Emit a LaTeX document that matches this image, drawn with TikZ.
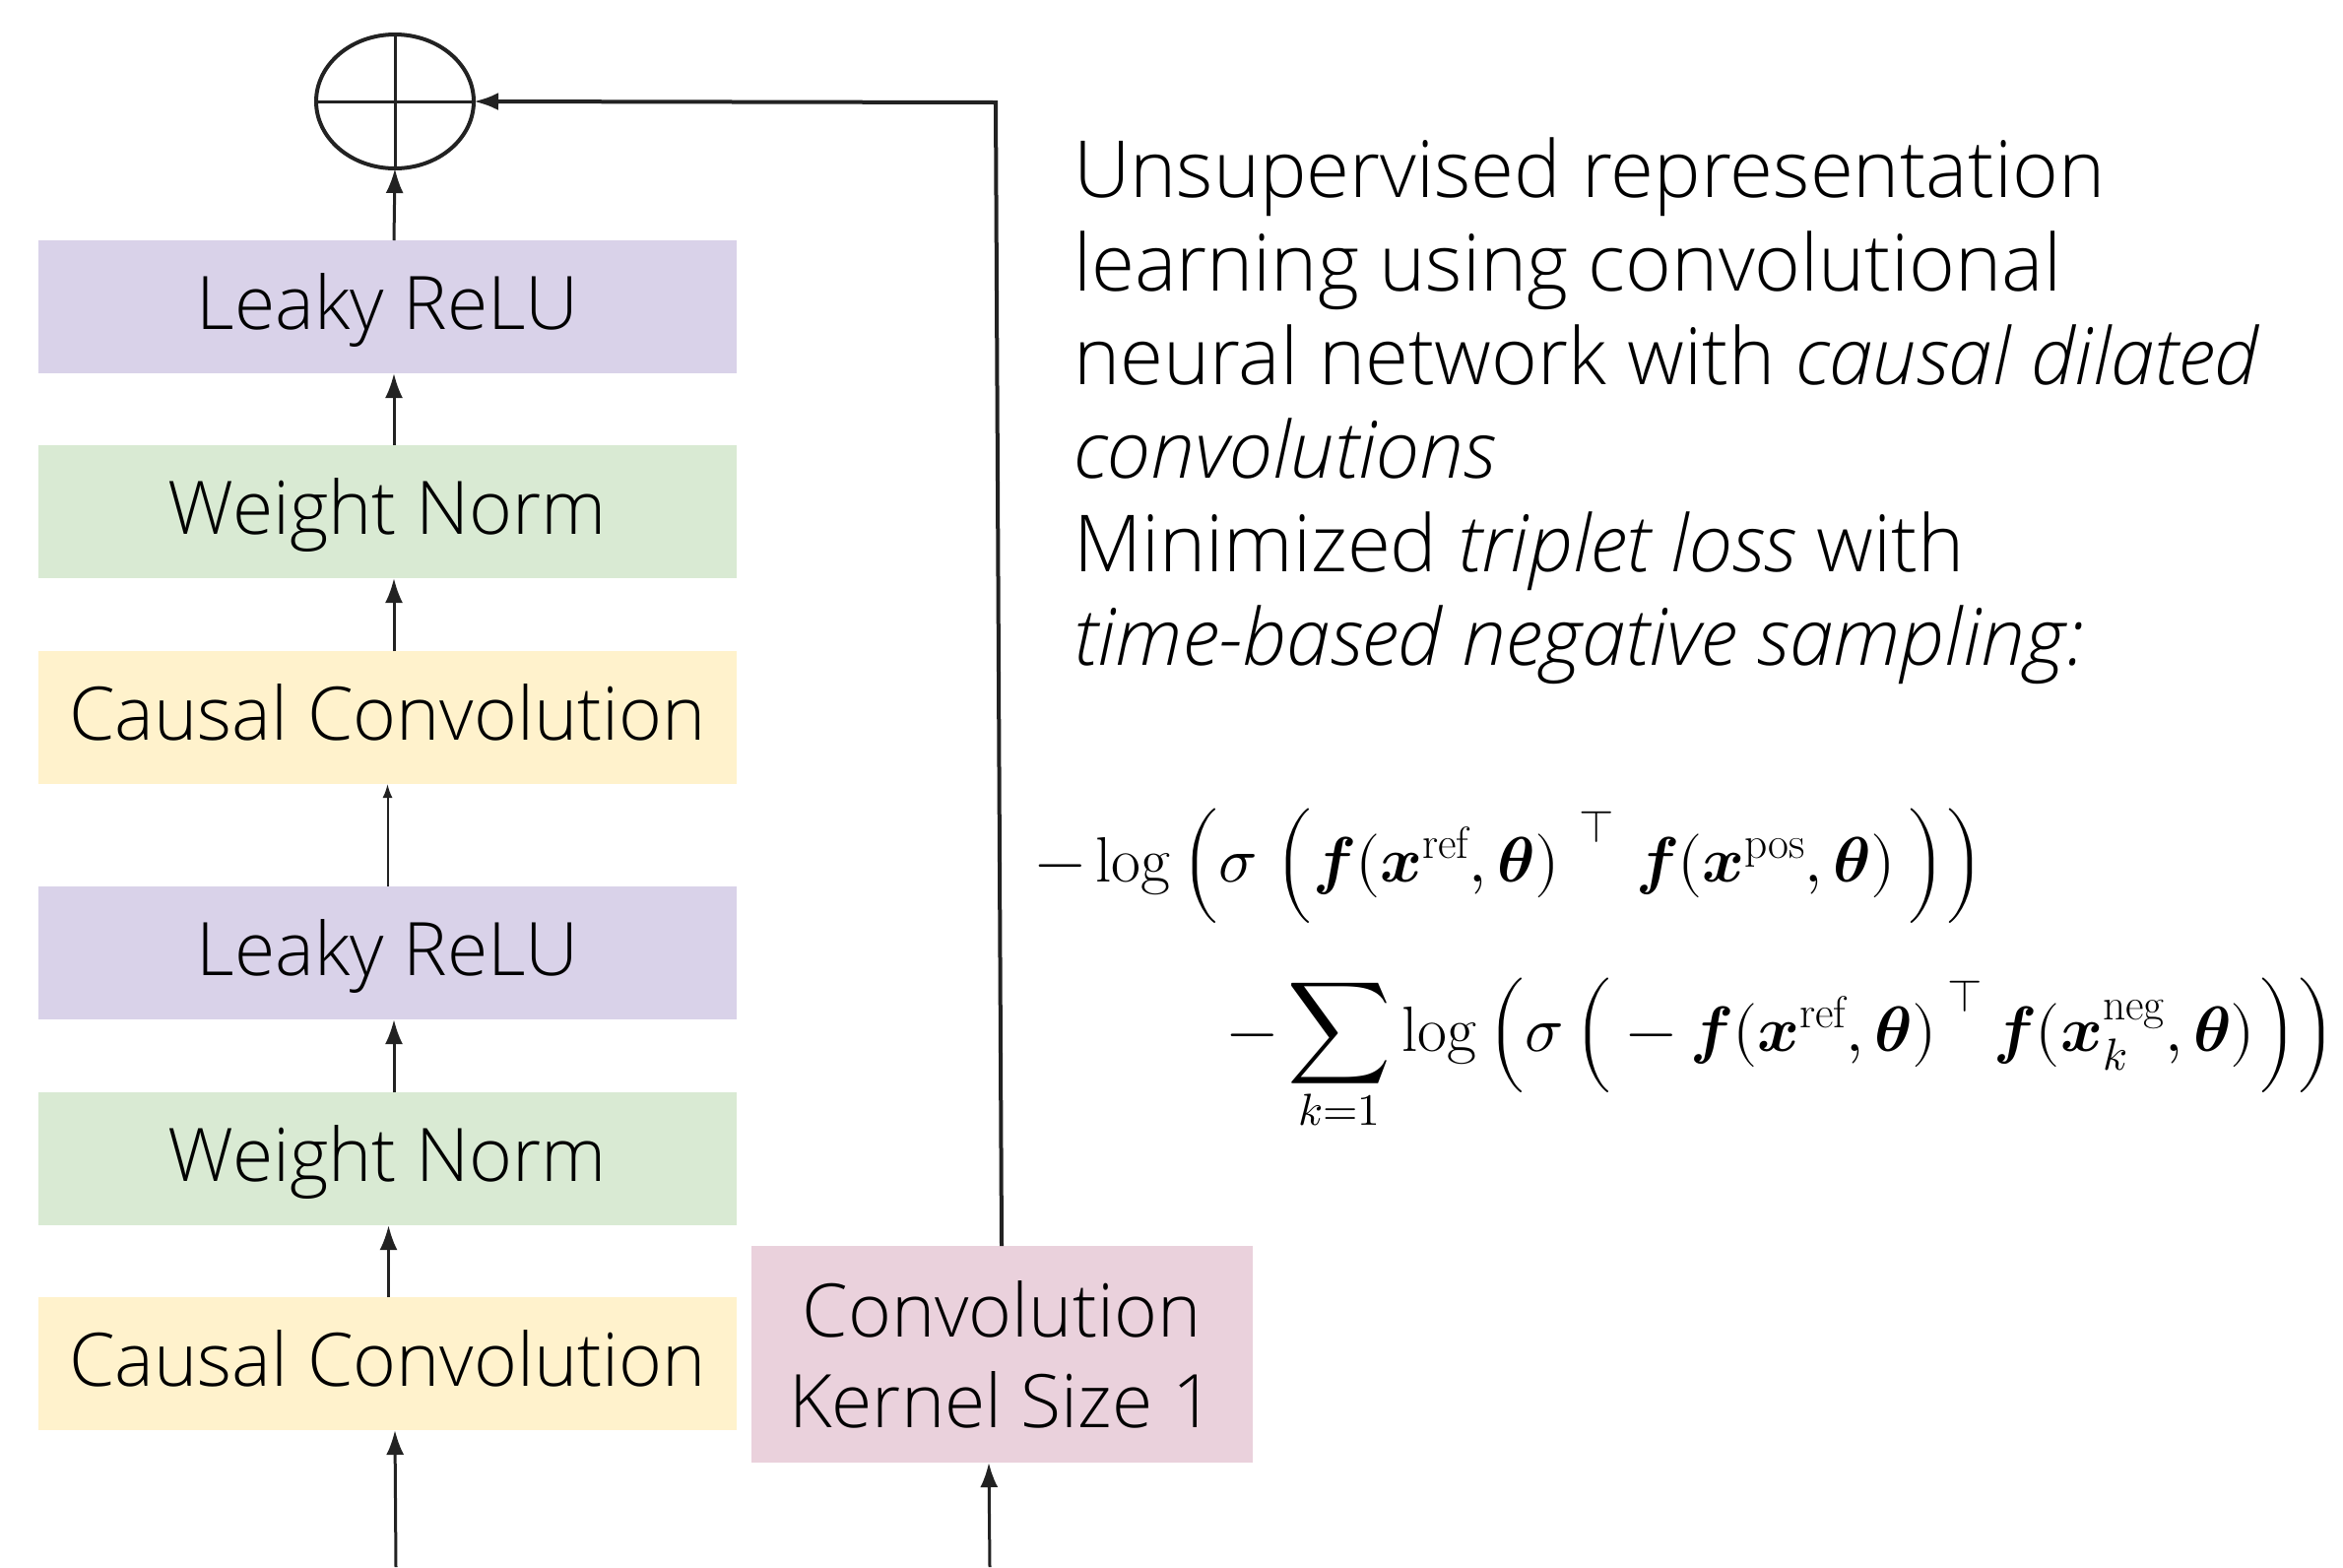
\documentclass[tikz,border=0pt]{standalone}
\usepackage{amsmath}
\usepackage{unicode-math}
\setmainfont{Open Sans Light}
\setmathfont{Latin Modern Math}
\setmathrm{Latin Modern Roman}
\usetikzlibrary{arrows.meta,shapes.geometric}
\definecolor{relucol}{HTML}{D9D2E9}
\definecolor{normcol}{HTML}{D9EAD3}
\definecolor{convcol}{HTML}{FFF2CC}
\definecolor{kerncol}{HTML}{EAD1DC}
\definecolor{linecol}{HTML}{222222}
\newcommand{\tp}[2]{^{\kern#1\raisebox{17pt}{$\scriptstyle\top$}}\kern#2}
\newcommand{\bigsum}{\mathop{\scalebox{1.12}{$\displaystyle\sum$}}\limits}
\begin{document}
\begin{tikzpicture}[x=1pt,y=-1pt,inner sep=0pt,outer sep=0pt,
  layer/.style={minimum width=709pt,minimum height=135pt,font=\fontsize{75}{92}\selectfont,text height=58pt,text depth=13pt},
  arr/.style={draw=linecol,line width=3pt,-{Latex[length=25pt,width=18pt]}},
  thin arr/.style={draw=linecol,line width=2pt,-{Latex[length=14pt,width=10pt]}}]
\useasboundingbox (0,0) rectangle (2379,1591);
% residual block
\node[layer,fill=relucol] (lr1) at (393.5,311.5) {Leaky ReLU};
\node[layer,fill=normcol] (wn1) at (393.5,519.5) {Weight Norm};
\node[layer,fill=convcol] (cc1) at (393.5,728.5) {Causal Convolution};
\node[layer,fill=relucol] (lr2) at (393.5,967.5) {Leaky ReLU};
\node[layer,fill=normcol] (wn2) at (393.5,1176.5) {Weight Norm};
\node[layer,fill=convcol] (cc2) at (393.5,1384.5) {Causal Convolution};
\node[fill=kerncol,minimum width=509pt,minimum height=220pt,align=center,font=\fontsize{75}{92}\selectfont] (kc) at (1017,1375) {Convolution\\Kernel Size 1};
\node[draw=linecol,line width=4pt,ellipse,minimum width=160pt,minimum height=136pt] (op) at (401,103) {};
\draw[linecol,line width=3pt] (op.north) -- (op.south) (op.west) -- (op.east);
% connections
\draw[arr] ([xshift=6.5pt]lr1.north) -- (op.south);
\draw[arr] ([xshift=6.5pt]wn1.north) -- ([xshift=6.5pt]lr1.south);
\draw[arr] ([xshift=6.5pt]cc1.north) -- ([xshift=6.5pt]wn1.south);
\draw[thin arr] (lr2.north) -- (cc1.south);
\draw[arr] ([xshift=6.5pt]wn2.north) -- ([xshift=6.5pt]lr2.south);
\draw[arr] ([xshift=1pt]cc2.north) -- ([xshift=1pt]wn2.south);
\coordinate (in1) at (402,1591);
\coordinate (in2) at (1005,1591);
\coordinate (ret) at (1011,104);
\draw[arr] (in1) -- ([xshift=7.5pt]cc2.south);
\draw[arr] (in2) -- ([xshift=-13pt]kc.south);
\draw[arr,line width=4pt] (kc.north) -- (ret) -- (op.east);
% description
\node[anchor=base west,align=left,font=\fontsize{80}{95}\selectfont] (desc) at (1090,675)
  {Unsupervised representation\\learning using convolutional\\neural network with \textit{causal dilated}\\\textit{convolutions}\\Minimized \textit{triplet loss} with\\\textit{time-based negative sampling:}};
\node[anchor=base west,font=\fontsize{65}{78}\selectfont] (loss1) at (1051,895)
  {$\displaystyle -\log\Big(\sigma\;\Big(\symbfit{f}(\symbfit{x}^{\mathrm{ref}},\symbfit{\theta})\tp{20pt}{22pt}\symbfit{f}(\symbfit{x}^{\mathrm{pos}},\symbfit{\theta})\kern12pt\Big)\Big)$};
\node[anchor=base west,font=\fontsize{65}{78}\selectfont] (loss2) at (1246,1067)
  {$\displaystyle -\bigsum_{k=1}\log\Big(\sigma\,\Big(-\symbfit{f}(\symbfit{x}^{\mathrm{ref}},\symbfit{\theta})\tp{11pt}{11pt}\symbfit{f}(\symbfit{x}_k^{\mathrm{neg}},\symbfit{\theta})\kern4pt\Big)\Big)$};
\end{tikzpicture}
\end{document}
